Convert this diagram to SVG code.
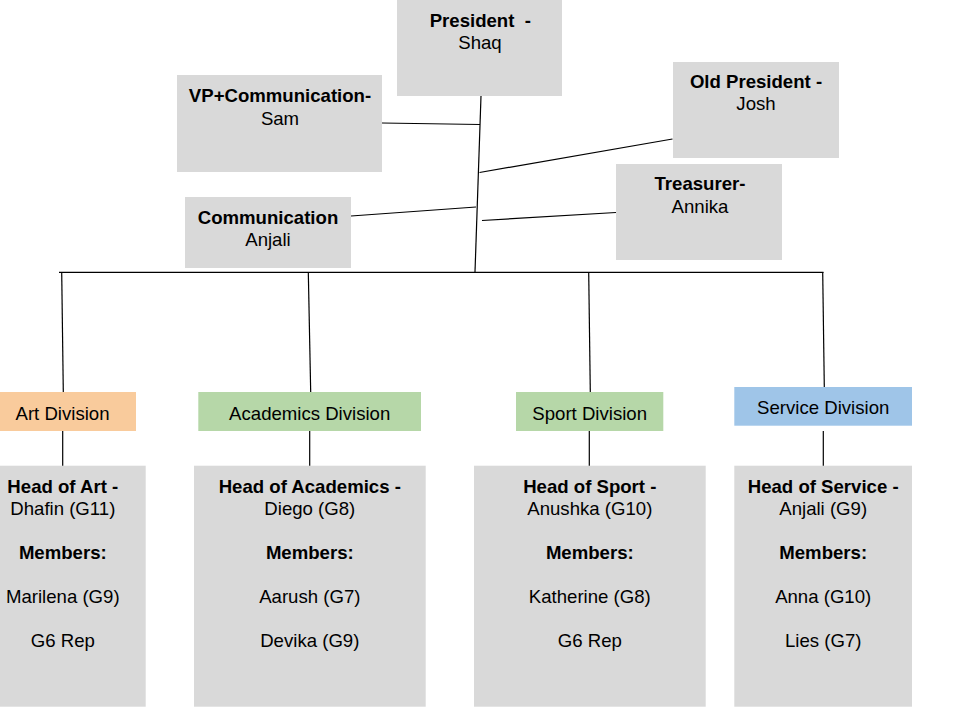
<svg xmlns="http://www.w3.org/2000/svg" width="960" height="720" viewBox="0 0 960 720">
<style>
text{font-family:"Liberation Sans",Arial,sans-serif;font-size:18.6px;fill:#000;text-anchor:middle}
.b{font-weight:bold}
.g{fill:#d9d9d9}
.art{fill:#f9cb9c}
.grn{fill:#b6d7a8}
.blu{fill:#9fc5e8}
.c line{stroke:#000;stroke-width:1.2;fill:none}
</style>
<rect width="960" height="720" fill="#fff"/>
<g id="president"><rect class="g" x="397" y="0" width="165" height="96"/>
<text class="b" x="480.3" y="26.5" xml:space="preserve">President  -</text><text x="480" y="48.7">Shaq</text></g>
<g id="vp"><rect class="g" x="177" y="75" width="205" height="97"/>
<text class="b" x="280" y="102">VP+Communication-</text><text x="280" y="124.5">Sam</text></g>
<g id="communication"><rect class="g" x="185" y="197" width="166" height="71"/>
<text class="b" x="268" y="223.5">Communication</text><text x="268" y="246">Anjali</text></g>
<g id="oldpresident"><rect class="g" x="673" y="62" width="166" height="96"/>
<text class="b" x="756" y="87.5">Old President -</text><text x="756" y="110">Josh</text></g>
<g id="treasurer"><rect class="g" x="616" y="164" width="166" height="96"/>
<text class="b" x="700" y="189.5">Treasurer-</text><text x="700" y="212.5">Annika</text></g>

<g class="c" id="connectors">
<line x1="481" y1="96" x2="475" y2="272"/>
<line x1="382" y1="123" x2="480" y2="124.5"/>
<line x1="351" y1="216" x2="476" y2="207"/>
<line x1="672.5" y1="139" x2="479.5" y2="172.5"/>
<line x1="616" y1="212.5" x2="482" y2="220.5"/>
<line x1="59" y1="272.3" x2="823.5" y2="272.3"/>
<line x1="61.7" y1="272" x2="63.3" y2="392"/>
<line x1="308.3" y1="272" x2="310.7" y2="392"/>
<line x1="588.7" y1="272" x2="590.3" y2="392"/>
<line x1="822.7" y1="272" x2="824.3" y2="387"/>
<line x1="62.7" y1="431" x2="62.7" y2="466"/>
<line x1="309.7" y1="431" x2="309.7" y2="466"/>
<line x1="589.3" y1="431" x2="589.3" y2="466"/>
<line x1="823.3" y1="431" x2="823.3" y2="466"/>
</g>

<g id="art-division"><rect class="art" x="-12" y="392" width="148" height="39"/><text x="62.5" y="419.5">Art Division</text></g>
<g id="academics-division"><rect class="grn" x="198.3" y="392" width="222.7" height="39"/><text x="309.7" y="419.5">Academics Division</text></g>
<g id="sport-division"><rect class="grn" x="516" y="392" width="147.3" height="39"/><text x="589.7" y="419.5">Sport Division</text></g>
<g id="service-division"><rect class="blu" x="734.3" y="387" width="177.7" height="38.7"/><text x="823.2" y="414">Service Division</text></g>

<g id="head-art"><rect class="g" x="-20" y="465.7" width="165.7" height="241"/>
<text class="b" x="62.8" y="492.5">Head of Art -</text><text x="62.8" y="514.5">Dhafin (G11)</text>
<text class="b" x="62.8" y="558.5">Members:</text><text x="62.8" y="602.5">Marilena (G9)</text><text x="62.8" y="646.5">G6 Rep</text></g>
<g id="head-academics"><rect class="g" x="194" y="465.7" width="231.7" height="241"/>
<text class="b" x="309.8" y="492.5">Head of Academics -</text><text x="309.8" y="514.5">Diego (G8)</text>
<text class="b" x="309.8" y="558.5">Members:</text><text x="309.8" y="602.5">Aarush (G7)</text><text x="309.8" y="646.5">Devika (G9)</text></g>
<g id="head-sport"><rect class="g" x="474" y="465.7" width="231.7" height="241"/>
<text class="b" x="589.8" y="492.5">Head of Sport -</text><text x="589.8" y="514.5">Anushka (G10)</text>
<text class="b" x="589.8" y="558.5">Members:</text><text x="589.8" y="602.5">Katherine (G8)</text><text x="589.8" y="646.5">G6 Rep</text></g>
<g id="head-service"><rect class="g" x="734.3" y="465.7" width="177.7" height="241"/>
<text class="b" x="823.2" y="492.5">Head of Service -</text><text x="823.2" y="514.5">Anjali (G9)</text>
<text class="b" x="823.2" y="558.5">Members:</text><text x="823.2" y="602.5">Anna (G10)</text><text x="823.2" y="646.5">Lies (G7)</text></g>
</svg>
